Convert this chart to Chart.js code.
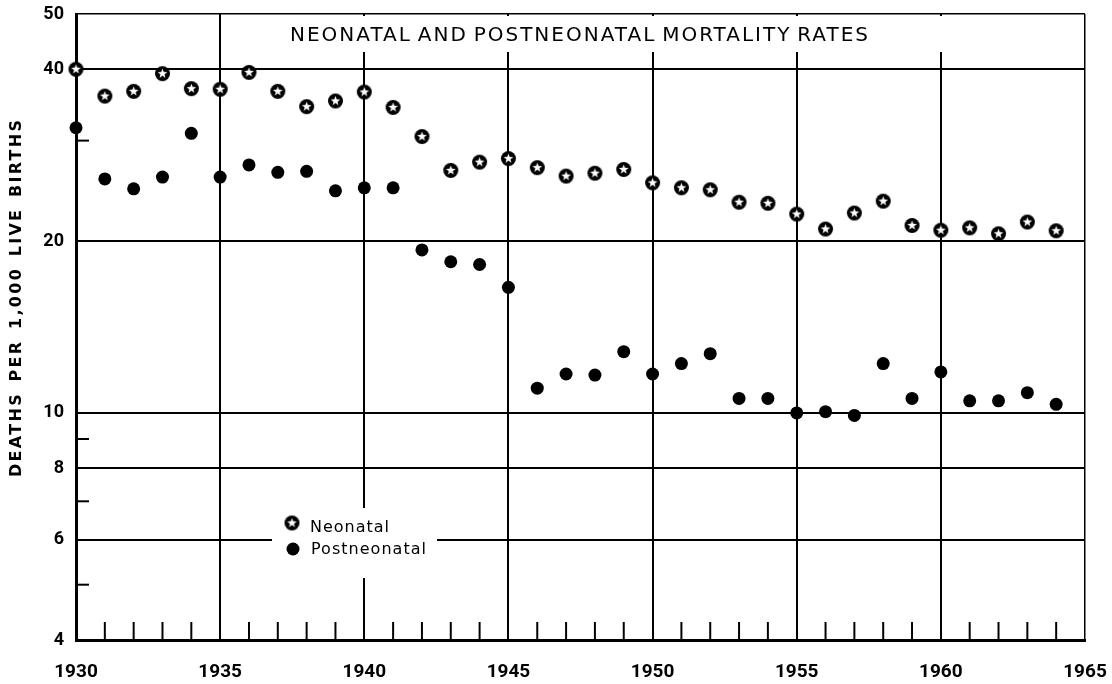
<!DOCTYPE html>
<html>
<head>
<meta charset="utf-8">
<script src="https://cdn.jsdelivr.net/npm/chart.js@4.4.0/dist/chart.umd.min.js"></script>
<style>
html,body{margin:0;padding:0;background:#fff;}
#wrap{width:1112px;height:684px;position:relative;}
</style>
</head>
<body>
<div id="wrap"><canvas id="c"></canvas></div>
<script>
const years = [1930,1931,1932,1933,1934,1935,1936,1937,1938,1939,1940,1941,1942,1943,1944,1945,1946,1947,1948,1949,1950,1951,1952,1953,1954,1955,1956,1957,1958,1959,1960,1961,1962,1963,1964];
const neonatal = [40.0,35.9,36.6,39.3,37.0,36.9,39.5,36.6,34.4,35.2,36.5,34.3,30.5,26.6,27.5,27.9,26.9,26.0,26.3,26.7,25.3,24.8,24.6,23.4,23.3,22.3,21.0,22.4,23.5,21.3,20.9,21.1,20.6,21.6,20.85];
const postneonatal = [31.6,25.7,24.7,25.9,30.9,25.9,27.2,26.4,26.5,24.5,24.8,24.8,19.3,18.4,18.2,16.6,11.05,11.7,11.65,12.8,11.7,12.2,12.7,10.6,10.6,10.0,10.05,9.9,12.2,10.6,11.8,10.5,10.5,10.85,10.35];
const xTickLabels = [1930,1935,1940,1945,1950,1955,1960,1965];
const xGridYears = [1935,1940,1945,1950,1955,1960];
const yTickLabels = [4,6,8,10,20,40,50];
const yGridValues = [6,8,10,20,40,50];
const yMinorTicks = [5,7,9,30];
const seriesNames = ['Neonatal','Postneonatal'];
const chartTitle = 'NEONATAL AND POSTNEONATAL MORTALITY RATES';
const yAxisTitle = 'DEATHS PER 1,000 LIVE BIRTHS';

function makeStar(r){
  const c = document.createElement('canvas');
  const s = Math.ceil(r*2+2);
  c.width = s; c.height = s;
  const g = c.getContext('2d');
  const cx = s/2, cy = s/2;
  g.fillStyle = '#000';
  g.beginPath(); g.arc(cx,cy,r,0,Math.PI*2); g.fill();
  g.fillStyle = '#fff';
  g.beginPath();
  for (let i=0;i<10;i++){
    const ang = -Math.PI/2 + i*Math.PI/5;
    const rr = (i%2) ? r*0.28 : r*0.68;
    g.lineTo(cx+rr*Math.cos(ang), cy+rr*Math.sin(ang));
  }
  g.closePath(); g.fill();
  return c;
}
const starImg = makeStar(7.5);

function fitText(ctx, text, x0, y, target, ls){
  const k = (text.match(/ /g)||[]).length;
  const n = [...text].length;
  ctx.letterSpacing = '0px'; ctx.wordSpacing = '0px';
  const w0 = ctx.measureText(text).width;
  if (k === 0){
    const sp = (target - w0)/Math.max(n-1,1);
    ctx.letterSpacing = sp + 'px';
  } else {
    ctx.letterSpacing = ls + 'px';
    const ws = (target - w0 - ls*(n-1))/k;
    ctx.wordSpacing = ws + 'px';
  }
  ctx.textAlign = 'left';
  ctx.fillText(text, x0, y);
  ctx.letterSpacing = '0px'; ctx.wordSpacing = '0px';
}

const decor = {
  id: 'decor',
  beforeDatasetsDraw(chart){
    const {ctx, chartArea:a, scales:{x, y}} = chart;
    ctx.save();
    ctx.fillStyle = '#fff';
    // band behind the title (vertical lines start below it)
    ctx.fillRect(227, a.top+2, 950-227, 52-(a.top+2));
    // legend background
    ctx.fillRect(272, 508, 437-272, 578-508);
    // minor ticks
    ctx.strokeStyle = '#000';
    ctx.lineWidth = 2;
    years.forEach(yr => {
      if (yr % 5 !== 0){
        const px = x.getPixelForValue(yr);
        ctx.beginPath(); ctx.moveTo(px, a.bottom); ctx.lineTo(px, a.bottom-18); ctx.stroke();
      }
    });
    yMinorTicks.forEach(v => {
      const py = y.getPixelForValue(v);
      ctx.beginPath(); ctx.moveTo(a.left, py); ctx.lineTo(a.left+13, py); ctx.stroke();
    });
    ctx.restore();
  },
  afterDraw(chart){
    const {ctx} = chart;
    ctx.save();
    ctx.fillStyle = '#000';
    ctx.textBaseline = 'alphabetic';
    // title
    ctx.font = '20px "DejaVu Sans"';
    fitText(ctx, chartTitle, 290, 41, 578, 2);
    // legend
    ctx.drawImage(starImg, 292 - starImg.width/2, 523 - starImg.height/2);
    ctx.beginPath(); ctx.arc(293, 549, 6.5, 0, Math.PI*2); ctx.fill();
    ctx.font = '500 16px "DejaVu Sans"';
    fitText(ctx, seriesNames[0], 310, 532, 79, 0);
    fitText(ctx, seriesNames[1], 311, 554, 115, 0);
    // y axis title
    ctx.translate(17, 477);
    ctx.rotate(-Math.PI/2);
    ctx.font = 'bold 16px "DejaVu Sans"';
    ctx.textBaseline = 'middle';
    fitText(ctx, yAxisTitle, 0, 0, 357, 2.3);
    ctx.restore();
  }
};

const tickFont = {family: 'Roboto', weight: 'bold', size: 19};

new Chart(document.getElementById('c'), {
  type: 'scatter',
  data: {
    datasets: [
      {
        label: seriesNames[0],
        data: years.map((yr,i) => ({x: yr, y: neonatal[i]})),
        pointStyle: starImg,
        pointRadius: 7.5,
        pointHoverRadius: 7.5,
        showLine: false,
        clip: false
      },
      {
        label: seriesNames[1],
        data: years.map((yr,i) => ({x: yr, y: postneonatal[i]})),
        pointStyle: 'circle',
        pointRadius: 6.5,
        pointHoverRadius: 6.5,
        pointBorderWidth: 0,
        backgroundColor: '#000',
        borderColor: '#000',
        showLine: false,
        clip: false
      }
    ]
  },
  options: {
    responsive: true,
    maintainAspectRatio: false,
    animation: false,
    events: [],
    layout: {padding: {top: 14, right: 27, left: 0, bottom: 0}},
    plugins: {legend: {display: false}, title: {display: false}, tooltip: {enabled: false}},
    scales: {
      x: {
        type: 'linear',
        min: 1930, max: 1965,
        afterBuildTicks: s => { s.ticks = xTickLabels.map(v => ({value: v})); },
        afterFit: s => { s.height = 44; s.paddingLeft = 0; s.paddingRight = 0; },
        ticks: {autoSkip: false, maxRotation: 0, padding: 21, color: '#000', font: tickFont,
                callback: v => String(v)},
        grid: {
          drawTicks: false,
          color: c => (c.tick && (xGridYears.includes(c.tick.value) || c.tick.value === 1965)) ? '#000' : 'rgba(0,0,0,0)',
          lineWidth: c => (c.tick && c.tick.value === 1965) ? 1.5 : 2
        },
        border: {display: true, color: '#000', width: 3}
      },
      y: {
        type: 'logarithmic',
        min: 4, max: 50,
        afterBuildTicks: s => {
          s.ticks = [...yTickLabels, ...yMinorTicks].sort((a,b) => a-b).map(v => ({value: v}));
        },
        afterFit: s => { s.width = 76; s.paddingTop = 0; s.paddingBottom = 0; },
        ticks: {autoSkip: false, padding: 12, color: '#000', font: {family: 'Roboto', weight: 'bold', size: 18},
                callback: v => yTickLabels.includes(v) ? String(v) : ''},
        grid: {
          drawTicks: false,
          color: c => (c.tick && yGridValues.includes(c.tick.value)) ? '#000' : 'rgba(0,0,0,0)',
          lineWidth: c => (c.tick && c.tick.value === 50) ? 1.5 : 2
        },
        border: {display: true, color: '#000', width: 3}
      }
    }
  },
  plugins: [decor]
});
</script>
</body>
</html>
